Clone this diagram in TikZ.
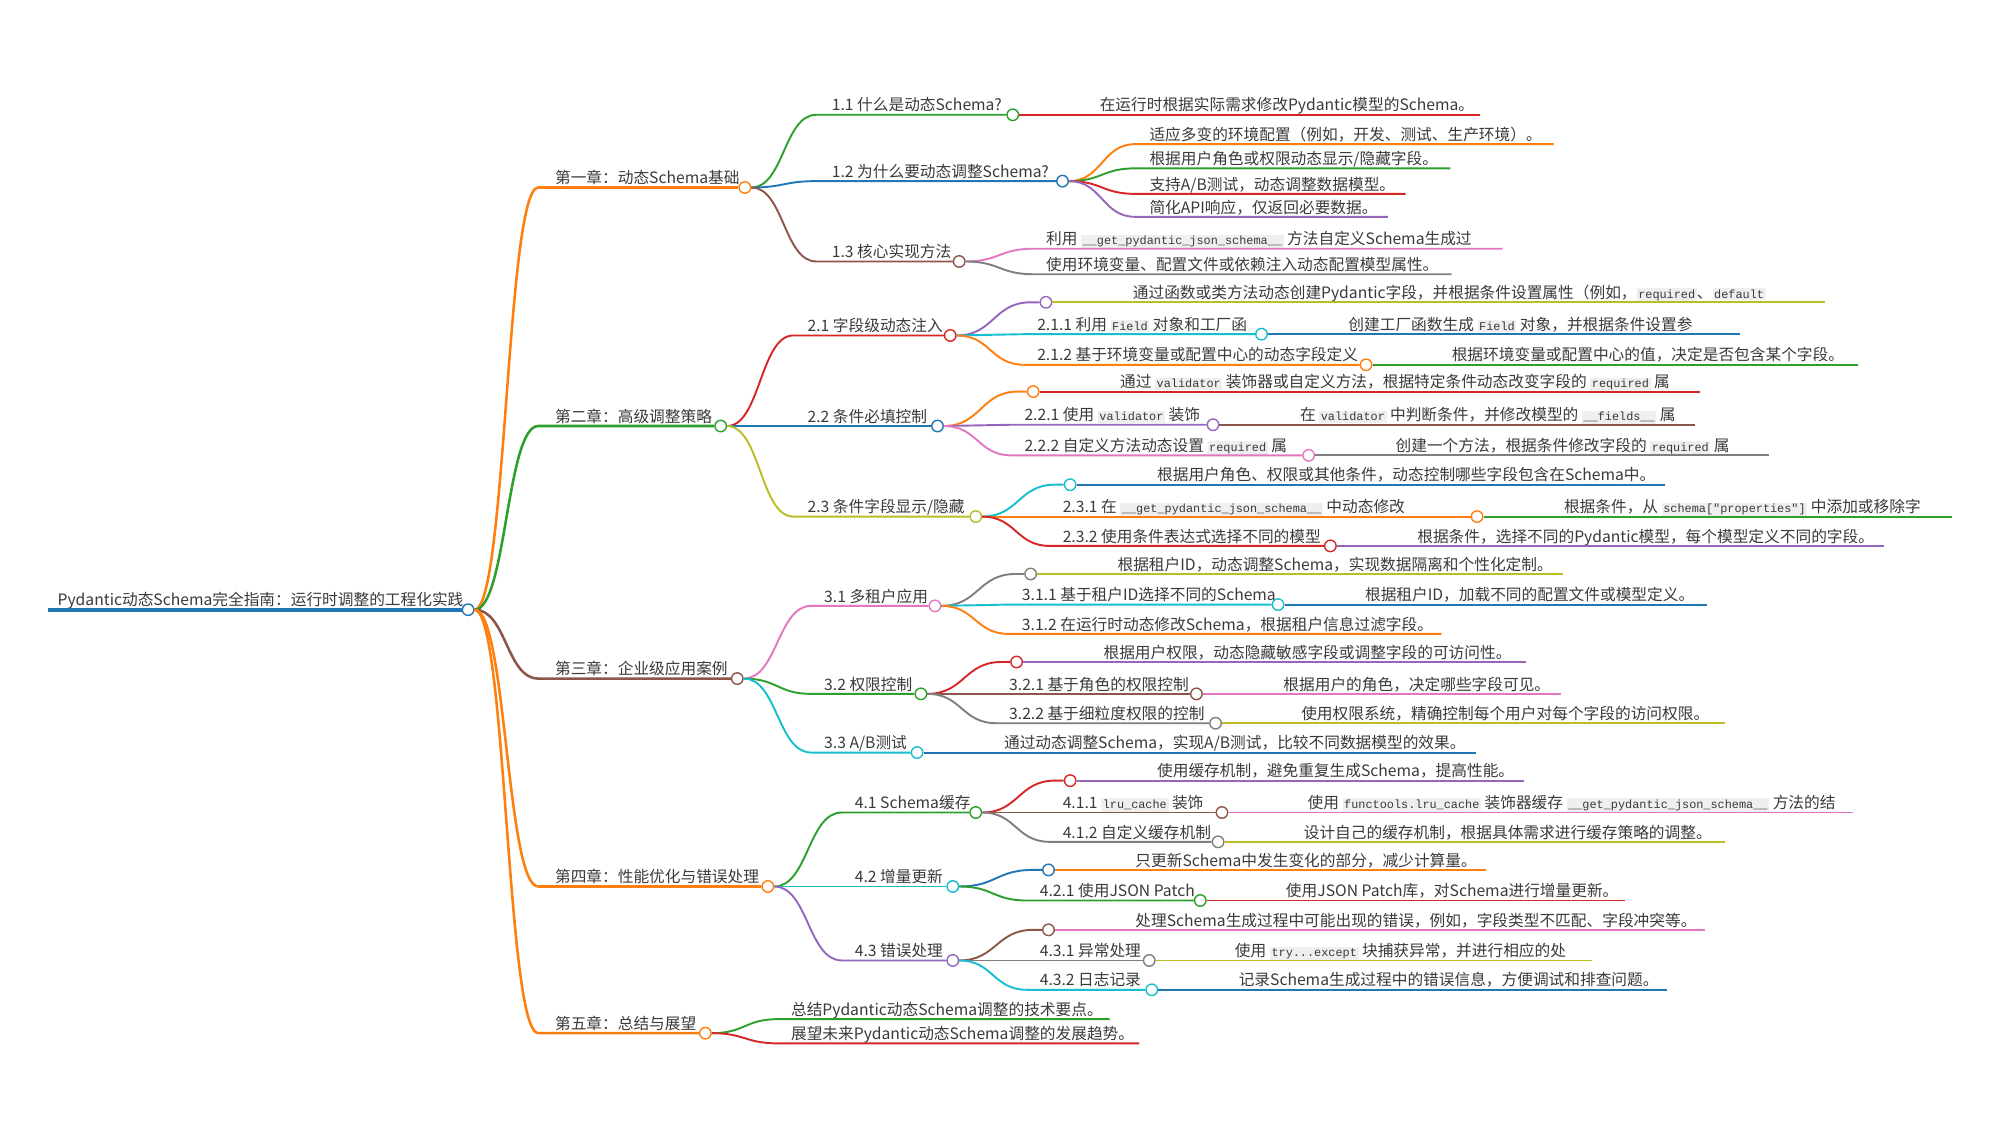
\documentclass[tikz,border=0pt]{standalone}
\usepackage{fontspec}
\setmainfont{Noto Sans CJK SC}
\newfontfamily\monof{Liberation Mono}
\usetikzlibrary{calc}
\definecolor{cBlue}{HTML}{1F77B4}
\definecolor{cOrange}{HTML}{FF7F0E}
\definecolor{cGreen}{HTML}{2CA02C}
\definecolor{cRed}{HTML}{D62728}
\definecolor{cPurple}{HTML}{9467BD}
\definecolor{cBrown}{HTML}{8C564B}
\definecolor{cPink}{HTML}{E377C2}
\definecolor{cGray}{HTML}{7F7F7F}
\definecolor{cOlive}{HTML}{BCBD22}
\definecolor{cCyan}{HTML}{17BECF}
\definecolor{codebg}{HTML}{EFEFEF}
\definecolor{txt}{HTML}{3A3A3A}
\newcommand\cd[1]{{\setlength{\fboxsep}{1.3pt}\colorbox{codebg}{\monof\fontsize{9.3}{10}\selectfont #1}}}
\def\lw{1.4pt}
\tikzset{
 lbl/.style={anchor=base west, inner sep=0pt, text=txt, font=\fontsize{12.3}{14}\selectfont},
 cdot/.style={circle, draw=#1, fill=white, line width=1.1pt, minimum size=9pt, inner sep=0pt},
 lnk/.style={draw=#1, line width=\lw},
}
% name, parent, y, startx, circlex, color, labelx, text
\newcommand\MMnode[8]{%
 \coordinate (#1-s) at (#4,#3);
 \node[cdot=#6] (#1) at (#5,#3) {};
 \node[lbl] (#1-t) at (#7,#3-3) {#8};
 \draw[lnk=#6] let \p1=(#2.east), \p2=(#1-s) in (\p1) .. controls ({(\x1+\x2)/2},\y1) and ({(\x1+\x2)/2},\y2) .. (\p2) -- (#1.west);
}
% name, parent, y, startx, endx, color, labelx, text
\newcommand\MMleaf[8]{%
 \coordinate (#1-s) at (#4,#3);
 \coordinate (#1-e) at (#5,#3);
 \node[lbl] (#1-t) at (#7,#3-3) {#8};
 \draw[lnk=#6] let \p1=(#2.east), \p2=(#1-s) in (\p1) .. controls ({(\x1+\x2)/2},\y1) and ({(\x1+\x2)/2},\y2) .. (\p2) -- (#1-e);
}
% name, parent, y, circlex, color
\newcommand\MMdot[5]{%
 \coordinate (#1-s) at (#4-12,#3);
 \node[cdot=#5] (#1) at (#4,#3) {};
 \draw[lnk=#5] let \p1=(#2.east), \p2=(#1-s) in (\p1) .. controls ({(\x1+\x2)/2},\y1) and ({(\x1+\x2)/2},\y2) .. (\p2) -- (#1.west);
}
\begin{document}
\begin{tikzpicture}[x=1pt,y=-1pt]
\useasboundingbox[fill=white] (0,0) rectangle (1568,882);
% root
\node[cdot=cBlue] (root) at (367,478) {};
\coordinate (root-s) at (38,478);
\node[lbl] (root-t) at (45,478-3.5) {Pydantic动态Schema完全指南：运行时调整的工程化实践};
\draw[lnk=cBlue, line width=3pt] (root-s) -- (root.west);
% chapters
\def\lw{2pt}
\MMnode{c1}{root}{147}{422}{584}{cOrange}{435}{第一章：动态Schema基础}
\MMnode{c2}{root}{334}{422}{565}{cGreen}{435}{第二章：高级调整策略}
\MMnode{c3}{root}{532}{422}{578}{cBrown}{435}{第三章：企业级应用案例}
\MMnode{c4}{root}{695}{422}{602}{cOrange}{435}{第四章：性能优化与错误处理}
\MMnode{c5}{root}{810}{422}{553}{cOrange}{435}{第五章：总结与展望}
\def\lw{1.5pt}
% chapter 1
\MMnode{n11}{c1}{90}{640}{794}{cGreen}{652}{1.1 什么是动态Schema?}
\MMnode{n12}{c1}{142}{640}{833}{cBlue}{652}{1.2 为什么要动态调整Schema?}
\MMnode{n13}{c1}{205}{640}{752}{cBrown}{652}{1.3 核心实现方法}
\MMleaf{l11}{n11}{90}{810}{1160}{cRed}{862}{在运行时根据实际需求修改Pydantic模型的Schema。}
\MMleaf{l12a}{n12}{113}{890}{1218}{cOrange}{901}{适应多变的环境配置（例如，开发、测试、生产环境）。}
\MMleaf{l12b}{n12}{132}{890}{1137}{cGreen}{901}{根据用户角色或权限动态显示/隐藏字段。}
\MMleaf{l12c}{n12}{152}{890}{1102}{cRed}{901}{支持A/B测试，动态调整数据模型。}
\MMleaf{l12d}{n12}{170}{890}{1088}{cPurple}{901}{简化API响应，仅返回必要数据。}
\MMleaf{l13a}{n13}{195}{810}{1178}{cPink}{820}{利用 \cd{\_\_get\_pydantic\_json\_schema\_\_} 方法自定义Schema生成过}
\MMleaf{l13b}{n13}{215}{810}{1138}{cGray}{820}{使用环境变量、配置文件或依赖注入动态配置模型属性。}
% chapter 2
\MMnode{n21}{c2}{263}{622}{745}{cRed}{633}{2.1 字段级动态注入}
\MMnode{n22}{c2}{334}{622}{735}{cBlue}{633}{2.2 条件必填控制}
\MMnode{n23}{c2}{405}{622}{765}{cOlive}{633}{2.3 条件字段显示/隐藏}
\MMdot{d21}{n21}{237}{820}{cPurple}
\MMleaf{l21}{d21}{237}{840}{1431}{cOlive}{888}{通过函数或类方法动态创建Pydantic字段，并根据条件设置属性（例如，\cd{required}、\cd{default}}
\MMnode{n211}{n21}{262}{803}{989}{cCyan}{813}{2.1.1 利用 \cd{Field} 对象和工厂函}
\MMleaf{l211}{n211}{262}{1010}{1364}{cBlue}{1057}{创建工厂函数生成 \cd{Field} 对象，并根据条件设置参}
\MMnode{n212}{n21}{286}{803}{1071}{cOrange}{813}{2.1.2 基于环境变量或配置中心的动态字段定义}
\MMleaf{l212}{n212}{286}{1090}{1457}{cGreen}{1138}{根据环境变量或配置中心的值，决定是否包含某个字段。}
\MMdot{d22}{n22}{307}{810}{cOrange}
\MMleaf{l22}{d22}{307}{830}{1333}{cRed}{878}{通过 \cd{validator} 装饰器或自定义方法，根据特定条件动态改变字段的 \cd{required} 属}
\MMnode{n221}{n22}{333}{793}{951}{cPurple}{803}{2.2.1 使用 \cd{validator} 装饰}
\MMleaf{l221}{n221}{333}{970}{1329}{cBrown}{1019}{在 \cd{validator} 中判断条件，并修改模型的 \cd{\_\_fields\_\_} 属}
\MMnode{n222}{n22}{357}{793}{1026}{cPink}{803}{2.2.2 自定义方法动态设置 \cd{required} 属}
\MMleaf{l222}{n222}{357}{1045}{1387}{cGray}{1094}{创建一个方法，根据条件修改字段的 \cd{required} 属}
\MMdot{d23}{n23}{380}{839}{cCyan}
\MMleaf{l23}{d23}{380}{860}{1305}{cBlue}{907}{根据用户角色、权限或其他条件，动态控制哪些字段包含在Schema中。}
\MMnode{n231}{n23}{405}{823}{1158}{cOrange}{833}{2.3.1 在 \cd{\_\_get\_pydantic\_json\_schema\_\_} 中动态修改}
\MMleaf{l231}{n231}{405}{1180}{1530}{cGreen}{1226}{根据条件，从 \cd{schema["properties"]} 中添加或移除字}
\MMnode{n232}{n23}{428}{823}{1043}{cRed}{833}{2.3.2 使用条件表达式选择不同的模型}
\MMleaf{l232}{n232}{428}{1060}{1477}{cPurple}{1111}{根据条件，选择不同的Pydantic模型，每个模型定义不同的字段。}
% chapter 3
\MMnode{n31}{c3}{475}{636}{733}{cPink}{646}{3.1 多租户应用}
\MMnode{n32}{c3}{544}{636}{722}{cGreen}{646}{3.2 权限控制}
\MMnode{n33}{c3}{590}{636}{719}{cCyan}{646}{3.3 A/B测试}
\MMdot{d31}{n31}{450}{808}{cGray}
\MMleaf{l31}{d31}{450}{830}{1225}{cOlive}{876}{根据租户ID，动态调整Schema，实现数据隔离和个性化定制。}
\MMnode{n311}{n31}{474}{791}{1002}{cCyan}{801}{3.1.1 基于租户ID选择不同的Schema}
\MMleaf{l311}{n311}{474}{1020}{1338}{cBlue}{1070}{根据租户ID，加载不同的配置文件或模型定义。}
\MMleaf{l312}{n31}{497}{791}{1130}{cOrange}{801}{3.1.2 在运行时动态修改Schema，根据租户信息过滤字段。}
\MMdot{d32}{n32}{519}{797}{cRed}
\MMleaf{l32}{d32}{519}{820}{1196}{cPurple}{865}{根据用户权限，动态隐藏敏感字段或调整字段的可访问性。}
\MMnode{n321}{n32}{544}{781}{938}{cBrown}{791}{3.2.1 基于角色的权限控制}
\MMleaf{l321}{n321}{544}{960}{1224}{cPink}{1006}{根据用户的角色，决定哪些字段可见。}
\MMnode{n322}{n32}{567}{781}{953}{cGray}{791}{3.2.2 基于细粒度权限的控制}
\MMleaf{l322}{n322}{567}{975}{1352}{cOlive}{1020}{使用权限系统，精确控制每个用户对每个字段的访问权限。}
\MMleaf{l33}{n33}{590}{740}{1157}{cBlue}{787}{通过动态调整Schema，实现A/B测试，比较不同数据模型的效果。}
% chapter 4
\MMnode{n41}{c4}{637}{660}{765}{cGreen}{670}{4.1 Schema缓存}
\MMnode{n42}{c4}{695}{660}{747}{cCyan}{670}{4.2 增量更新}
\MMnode{n43}{c4}{753}{660}{747}{cPurple}{670}{4.3 错误处理}
\MMdot{d41}{n41}{612}{839}{cRed}
\MMleaf{l41}{d41}{612}{860}{1195}{cPurple}{907}{使用缓存机制，避免重复生成Schema，提高性能。}
\MMnode{n411}{n41}{637}{823}{958}{cBrown}{833}{4.1.1 \cd{lru\_cache} 装饰}
\MMleaf{l411}{n411}{637}{980}{1453}{cPink}{1025}{使用 \cd{functools.lru\_cache} 装饰器缓存 \cd{\_\_get\_pydantic\_json\_schema\_\_} 方法的结}
\MMnode{n412}{n41}{660}{823}{955}{cGray}{833}{4.1.2 自定义缓存机制}
\MMleaf{l412}{n412}{660}{975}{1352}{cOlive}{1022}{设计自己的缓存机制，根据具体需求进行缓存策略的调整。}
\MMdot{d42}{n42}{682}{822}{cBlue}
\MMleaf{l42}{d42}{682}{845}{1165}{cOrange}{890}{只更新Schema中发生变化的部分，减少计算量。}
\MMnode{n421}{n42}{706}{805}{941}{cGreen}{815}{4.2.1 使用JSON Patch}
\MMleaf{l421}{n421}{706}{960}{1274}{cRed}{1008}{使用JSON Patch库，对Schema进行增量更新。}
\MMdot{d43}{n43}{729}{822}{cBrown}
\MMleaf{l43}{d43}{729}{845}{1337}{cPink}{890}{处理Schema生成过程中可能出现的错误，例如，字段类型不匹配、字段冲突等。}
\MMnode{n431}{n43}{753}{805}{901}{cGray}{815}{4.3.1 异常处理}
\MMleaf{l431}{n431}{753}{920}{1248}{cOlive}{968}{使用 \cd{try...except} 块捕获异常，并进行相应的处}
\MMnode{n432}{n43}{776}{805}{903}{cCyan}{815}{4.3.2 日志记录}
\MMleaf{l432}{n432}{776}{925}{1307}{cBlue}{971}{记录Schema生成过程中的错误信息，方便调试和排查问题。}
% chapter 5
\MMleaf{l51}{c5}{799}{610}{870}{cGreen}{620}{总结Pydantic动态Schema调整的技术要点。}
\MMleaf{l52}{c5}{818}{610}{893}{cRed}{620}{展望未来Pydantic动态Schema调整的发展趋势。}
\end{tikzpicture}
\end{document}
